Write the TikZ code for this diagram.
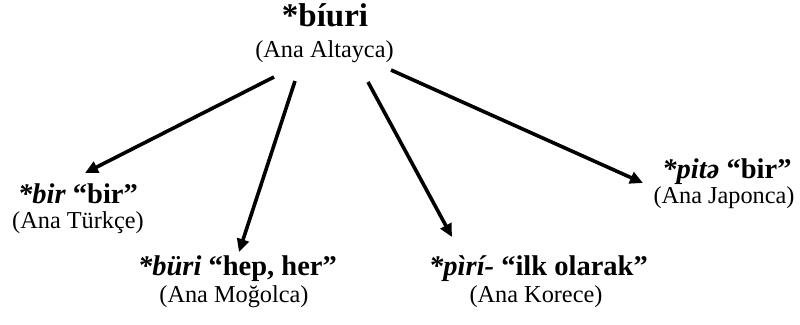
\documentclass[tikz,border=0pt]{standalone}
\usepackage{fontspec}
\setmainfont{Liberation Serif}
\usetikzlibrary{arrows.meta}
\begin{document}
\begin{tikzpicture}[x=1pt,y=-1pt,
  titletext/.style={font=\fontsize{33}{33}\selectfont\bfseries, anchor=base, inner sep=0pt},
  labtext/.style={font=\fontsize{28.5}{29}\selectfont\bfseries, anchor=base, inner sep=0pt},
  subtext/.style={font=\fontsize{24.3}{25}\selectfont, anchor=base, inner sep=0pt},
  arr/.style={line width=3.6pt, -{Triangle[length=13pt,width=12pt]}}]
\useasboundingbox (0,0) rectangle (800,324);
\node[titletext] (root) at (325,26) {*bíuri};
\node[subtext] (rootsub) at (324.5,57) {(Ana Altayca)};

\node[labtext] (tr) at (78,203) {\textit{*bir} “bir”};
\node[subtext] (trsub) at (78,228) {(Ana Türkçe)};

\node[labtext] (mo) at (237.5,275) {\textit{*büri} “hep, her”};
\node[subtext] (mosub) at (234,302) {(Ana Moğolca)};

\node[labtext] (ko) at (538.5,275) {\textit{*pìrí-} “ilk olarak”};
\node[subtext] (kosub) at (536,302) {(Ana Korece)};

\node[labtext] (ja) at (727,178) {\textit{*pitə} “bir”};
\node[subtext] (jasub) at (724,203) {(Ana Japonca)};

\coordinate (s1) at (274,77);
\coordinate (e1) at (85,173);
\coordinate (s2) at (295,81);
\coordinate (e2) at (239,252);
\coordinate (s3) at (368,82);
\coordinate (e3) at (452,237);
\coordinate (s4) at (391,70);
\coordinate (e4) at (643,183);

\draw[arr] (s1) -- (e1);
\draw[arr] (s2) -- (e2);
\draw[arr] (s3) -- (e3);
\draw[arr] (s4) -- (e4);
\end{tikzpicture}
\end{document}
